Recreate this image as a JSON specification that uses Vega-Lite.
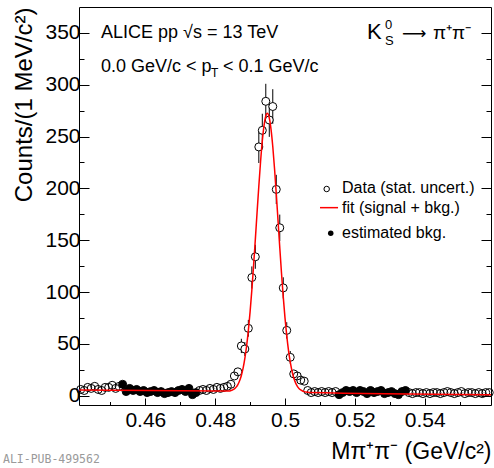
{
  "$schema": "https://vega.github.io/schema/vega-lite/v6.json",
  "width": 412,
  "height": 398,
  "autosize": {"type": "none"},
  "padding": {"left": 79, "top": 7, "right": 3, "bottom": 63},
  "background": "white",
  "title": {"text": "ALI-PUB-499562", "orient": "bottom", "anchor": "start", "frame": "bounds", "font": "DejaVu Sans Mono", "fontSize": 11.5, "fontWeight": "normal", "color": "#9a9a9a", "offset": -10, "dx": -10},
  "datasets": {
    "pts": [
      {"m":0.4415,"n":6},{"m":0.4425,"n":5},{"m":0.4435,"n":8},{"m":0.4445,"n":7},{"m":0.4455,"n":9},{"m":0.4465,"n":6},{"m":0.4475,"n":5},{"m":0.4485,"n":8},{"m":0.4495,"n":8},{"m":0.4505,"n":10},{"m":0.4515,"n":7},{"m":0.4525,"n":9},
      {"m":0.4535,"n":11,"s":1},{"m":0.4545,"n":4,"s":1},{"m":0.4555,"n":7,"s":1},{"m":0.4565,"n":5,"s":1},{"m":0.4575,"n":6,"s":1},{"m":0.4585,"n":4,"s":1},{"m":0.4595,"n":5,"s":1},{"m":0.4605,"n":3,"s":1},{"m":0.4615,"n":4,"s":1},{"m":0.4625,"n":5,"s":1},{"m":0.4635,"n":3,"s":1},{"m":0.4645,"n":4,"s":1},{"m":0.4655,"n":2,"s":1},{"m":0.4665,"n":3,"s":1},{"m":0.4675,"n":4,"s":1},{"m":0.4685,"n":3,"s":1},{"m":0.4695,"n":5,"s":1},{"m":0.4705,"n":6,"s":1},{"m":0.4715,"n":4,"s":1},{"m":0.4725,"n":7,"s":1},{"m":0.4735,"n":1,"s":1},{"m":0.4745,"n":3,"s":1},
      {"m":0.4755,"n":5},{"m":0.4765,"n":6},{"m":0.4775,"n":5},{"m":0.4785,"n":7},{"m":0.4795,"n":6},{"m":0.4805,"n":8},{"m":0.4815,"n":7},{"m":0.4825,"n":8},{"m":0.4835,"n":9},{"m":0.4845,"n":11},
      {"m":0.4855,"n":19},{"m":0.4865,"n":23},{"m":0.4875,"n":48,"e":6.9},{"m":0.4885,"n":45,"e":6.7},{"m":0.4895,"n":65,"e":8.1},{"m":0.4905,"n":114,"e":10.7},{"m":0.4915,"n":134,"e":11.6},{"m":0.4925,"n":240,"e":15.5},{"m":0.4935,"n":256,"e":16},{"m":0.4945,"n":284,"e":16.9},{"m":0.4955,"n":266,"e":16.3},{"m":0.4965,"n":279,"e":16.7},{"m":0.4975,"n":199,"e":14.1},{"m":0.4985,"n":162,"e":12.7},{"m":0.4995,"n":104,"e":10.2},{"m":0.5005,"n":63,"e":7.9},{"m":0.5015,"n":37,"e":6.1},{"m":0.5025,"n":21},{"m":0.5035,"n":19},{"m":0.5045,"n":15},{"m":0.5055,"n":14},{"m":0.5065,"n":5},
      {"m":0.5075,"n":3},{"m":0.5085,"n":4},{"m":0.5095,"n":3},{"m":0.5105,"n":4},{"m":0.5115,"n":3},{"m":0.5125,"n":4},{"m":0.5135,"n":3},{"m":0.5145,"n":4},
      {"m":0.5155,"n":1,"s":1},{"m":0.5165,"n":3,"s":1},{"m":0.5175,"n":5,"s":1},{"m":0.5185,"n":4,"s":1},{"m":0.5195,"n":5,"s":1},{"m":0.5205,"n":3,"s":1},{"m":0.5215,"n":5,"s":1},{"m":0.5225,"n":4,"s":1},{"m":0.5235,"n":2,"s":1},{"m":0.5245,"n":5,"s":1},{"m":0.5255,"n":3,"s":1},{"m":0.5265,"n":4,"s":1},{"m":0.5275,"n":5,"s":1},{"m":0.5285,"n":2,"s":1},{"m":0.5295,"n":3,"s":1},{"m":0.5305,"n":4,"s":1},{"m":0.5315,"n":2,"s":1},{"m":0.5325,"n":1,"s":1},{"m":0.5335,"n":4,"s":1},{"m":0.5345,"n":5,"s":1},
      {"m":0.5355,"n":3},{"m":0.5365,"n":2},{"m":0.5375,"n":3},{"m":0.5385,"n":3},{"m":0.5395,"n":2},{"m":0.5405,"n":3},{"m":0.5415,"n":2},{"m":0.5425,"n":3},{"m":0.5435,"n":3},{"m":0.5445,"n":2},{"m":0.5455,"n":3},{"m":0.5465,"n":4},{"m":0.5475,"n":3},{"m":0.5485,"n":2},{"m":0.5495,"n":3},{"m":0.5505,"n":4},{"m":0.5515,"n":2},{"m":0.5525,"n":3},{"m":0.5535,"n":3},{"m":0.5545,"n":2},{"m":0.5555,"n":3},{"m":0.5565,"n":2},{"m":0.5575,"n":3},{"m":0.5585,"n":3}
    ],
    "fit": [
      {"m":0.441,"n":5.5},{"m":0.484,"n":4.44},{"m":0.4845,"n":4.85},{"m":0.485,"n":5.52},{"m":0.4855,"n":6.6},{"m":0.486,"n":8.25},{"m":0.4865,"n":10.75},{"m":0.487,"n":14.4},{"m":0.4875,"n":19.5},{"m":0.488,"n":26.5},{"m":0.4885,"n":35.9},{"m":0.489,"n":47.9},{"m":0.4895,"n":62.8},{"m":0.49,"n":80.8},{"m":0.4905,"n":101.8},{"m":0.491,"n":125.3},{"m":0.4915,"n":150.6},{"m":0.492,"n":176.7},{"m":0.4925,"n":202.1},{"m":0.493,"n":225.7},{"m":0.4935,"n":245.7},{"m":0.494,"n":260.8},{"m":0.4945,"n":269.9},{"m":0.4949,"n":272.4},{"m":0.4955,"n":267.9},{"m":0.496,"n":257.0},{"m":0.4965,"n":240.4},{"m":0.497,"n":219.2},{"m":0.4975,"n":194.9},{"m":0.498,"n":169.1},{"m":0.4985,"n":143.1},{"m":0.499,"n":118.1},{"m":0.4995,"n":95.3},{"m":0.5,"n":75.1},{"m":0.5005,"n":57.9},{"m":0.501,"n":43.7},{"m":0.5015,"n":32.5},{"m":0.502,"n":23.8},{"m":0.5025,"n":17.3},{"m":0.503,"n":12.6},{"m":0.5035,"n":9.3},{"m":0.504,"n":7.0},{"m":0.5045,"n":5.5},{"m":0.505,"n":4.5},{"m":0.5055,"n":3.9},{"m":0.506,"n":3.5},{"m":0.507,"n":3.1},{"m":0.559,"n":1.0}
    ],
    "t18": [
      {"m":0.4473,"n":345.1,"t":"ALICE pp √s = 13 TeV"},
      {"m":0.4473,"n":312.3,"t":"0.0 GeV/c < p"},
      {"m":0.48224,"n":312.3,"t":"< 0.1 GeV/c"}
    ],
    "tsub": [{"m":0.47881,"n":307.5,"t":"T"}],
    "tk": [{"m":0.52349,"n":344.1,"t":"K"}],
    "tk2": [{"m":0.52864,"n":353.6,"t":"0"},{"m":0.52864,"n":338.6,"t":"S"}],
    "tarr": [{"m":0.53351,"n":344.1,"t":"⟶"}],
    "tpi": [{"m":0.54239,"n":344.1,"t":"π⁺π⁻"}],
    "lgc": [{"m":0.51194,"n":199.4}],
    "lgd": [{"m":0.5131,"n":156.7}],
    "lgl": [{"m":0.51003,"n":181.4},{"m":0.51519,"n":181.4}],
    "lgt": [
      {"m":0.51633,"n":200.1,"t":"Data (stat. uncert.)"},
      {"m":0.51633,"n":181.4,"t":"fit (signal + bkg.)"},
      {"m":0.51633,"n":156.7,"t":"estimated bkg."}
    ]
  },
  "encoding": {
    "x": {
      "field": "m", "type": "quantitative",
      "scale": {"domain": [0.441, 0.559], "nice": false, "zero": false},
      "axis": {
        "values": [0.45,0.46,0.47,0.48,0.49,0.5,0.51,0.52,0.53,0.54,0.55],
        "labelExpr": "round(datum.value*100) % 2 == 0 ? format(datum.value, '~g') : ''",
        "tickSize": {"condition": {"test": "round(datum.value*100) % 2 == 0", "value": -7}, "value": -3.5},
        "labelPadding": 11,
        "labelOverlap": false,
        "labelFlush": false,
        "title": "Mπ⁺π⁻ (GeV/c²)",
        "titleAnchor": "end",
        "titlePadding": 7,
        "titleFontSize": 23
      }
    }
  },
  "layer": [
    {
      "encoding": {
        "y": {
          "field": "n", "type": "quantitative",
          "scale": {"domain": [-9, 375], "nice": false, "zero": false},
          "axis": {
            "values": [0,25,50,75,100,125,150,175,200,225,250,275,300,325,350],
            "labelExpr": "datum.value % 50 == 0 ? datum.label : ''",
            "tickSize": {"condition": {"test": "datum.value % 50 == 0", "value": -10}, "value": -5},
            "labelPadding": 9,
            "title": "Counts/(1 MeV/c²)",
            "titleAnchor": "end",
            "titlePadding": 8,
            "titleFontSize": 24
          }
        }
      },
      "layer": [
        {
          "data": {"name": "pts"},
          "transform": [{"filter": "isValid(datum.e)"}],
          "mark": {"type": "errorbar", "color": "black", "thickness": 1, "ticks": false},
          "encoding": {"yError": {"field": "e"}}
        },
        {
          "data": {"name": "pts"},
          "mark": {"type": "point", "shape": "circle", "filled": false, "size": 64, "strokeWidth": 1, "opacity": 1, "color": "black"},
          "encoding": {
            "fill": {"condition": {"test": "isValid(datum.e)", "value": "white"}, "value": "transparent"}
          }
        },
        {
          "data": {"name": "pts"},
          "transform": [{"filter": "datum.s == 1"}],
          "mark": {"type": "point", "shape": "circle", "filled": true, "size": 60, "opacity": 1, "color": "black"}
        },
        {
          "data": {"name": "fit"},
          "mark": {"type": "line", "strokeWidth": 1.5, "interpolate": "monotone", "color": "#ff0000"}
        },
        {
          "data": {"name": "lgc"},
          "mark": {"type": "point", "shape": "circle", "filled": false, "size": 30, "strokeWidth": 1, "opacity": 1, "color": "black"}
        },
        {
          "data": {"name": "lgd"},
          "mark": {"type": "point", "shape": "circle", "filled": true, "size": 30, "opacity": 1, "color": "black"}
        },
        {
          "data": {"name": "lgl"},
          "mark": {"type": "line", "strokeWidth": 1.5, "color": "#ff0000"}
        },
        {
          "data": {"name": "lgt"},
          "mark": {"type": "text", "align": "left", "baseline": "middle", "fontSize": 16, "font": "Liberation Sans", "color": "black"},
          "encoding": {"text": {"field": "t"}}
        },
        {
          "data": {"name": "t18"},
          "mark": {"type": "text", "align": "left", "baseline": "alphabetic", "fontSize": 18, "font": "Liberation Sans", "color": "black"},
          "encoding": {"text": {"field": "t"}}
        },
        {
          "data": {"name": "tsub"},
          "mark": {"type": "text", "align": "left", "baseline": "alphabetic", "fontSize": 12, "font": "Liberation Sans", "color": "black"},
          "encoding": {"text": {"field": "t"}}
        },
        {
          "data": {"name": "tk"},
          "mark": {"type": "text", "align": "left", "baseline": "alphabetic", "fontSize": 22, "font": "Liberation Sans", "color": "black"},
          "encoding": {"text": {"field": "t"}}
        },
        {
          "data": {"name": "tk2"},
          "mark": {"type": "text", "align": "left", "baseline": "alphabetic", "fontSize": 13, "font": "Liberation Sans", "color": "black"},
          "encoding": {"text": {"field": "t"}}
        },
        {
          "data": {"name": "tarr"},
          "mark": {"type": "text", "align": "left", "baseline": "alphabetic", "fontSize": 17, "font": "DejaVu Sans", "color": "black"},
          "encoding": {"text": {"field": "t"}}
        },
        {
          "data": {"name": "tpi"},
          "mark": {"type": "text", "align": "left", "baseline": "alphabetic", "fontSize": 19, "font": "Liberation Sans", "color": "black"},
          "encoding": {"text": {"field": "t"}}
        }
      ]
    },
    {
      "data": {"name": "fit"},
      "mark": {"type": "line", "opacity": 0},
      "encoding": {
        "y": {
          "field": "n", "type": "quantitative",
          "scale": {"domain": [-9, 375], "nice": false, "zero": false},
          "axis": {
            "orient": "right",
            "values": [0,25,50,75,100,125,150,175,200,225,250,275,300,325,350],
            "labels": false,
            "tickSize": {"condition": {"test": "datum.value % 50 == 0", "value": -10}, "value": -5},
            "title": null
          }
        }
      }
    }
  ],
  "resolve": {"axis": {"y": "independent"}},
  "config": {
    "view": {"stroke": "black", "strokeWidth": 1},
    "font": "Liberation Sans",
    "axis": {
      "grid": false, "domain": false, "tickColor": "black", "tickWidth": 1,
      "labelColor": "black", "titleColor": "black",
      "labelFont": "Liberation Sans", "titleFont": "Liberation Sans",
      "titleFontWeight": "normal", "labelFontSize": 21
    }
  }
}
